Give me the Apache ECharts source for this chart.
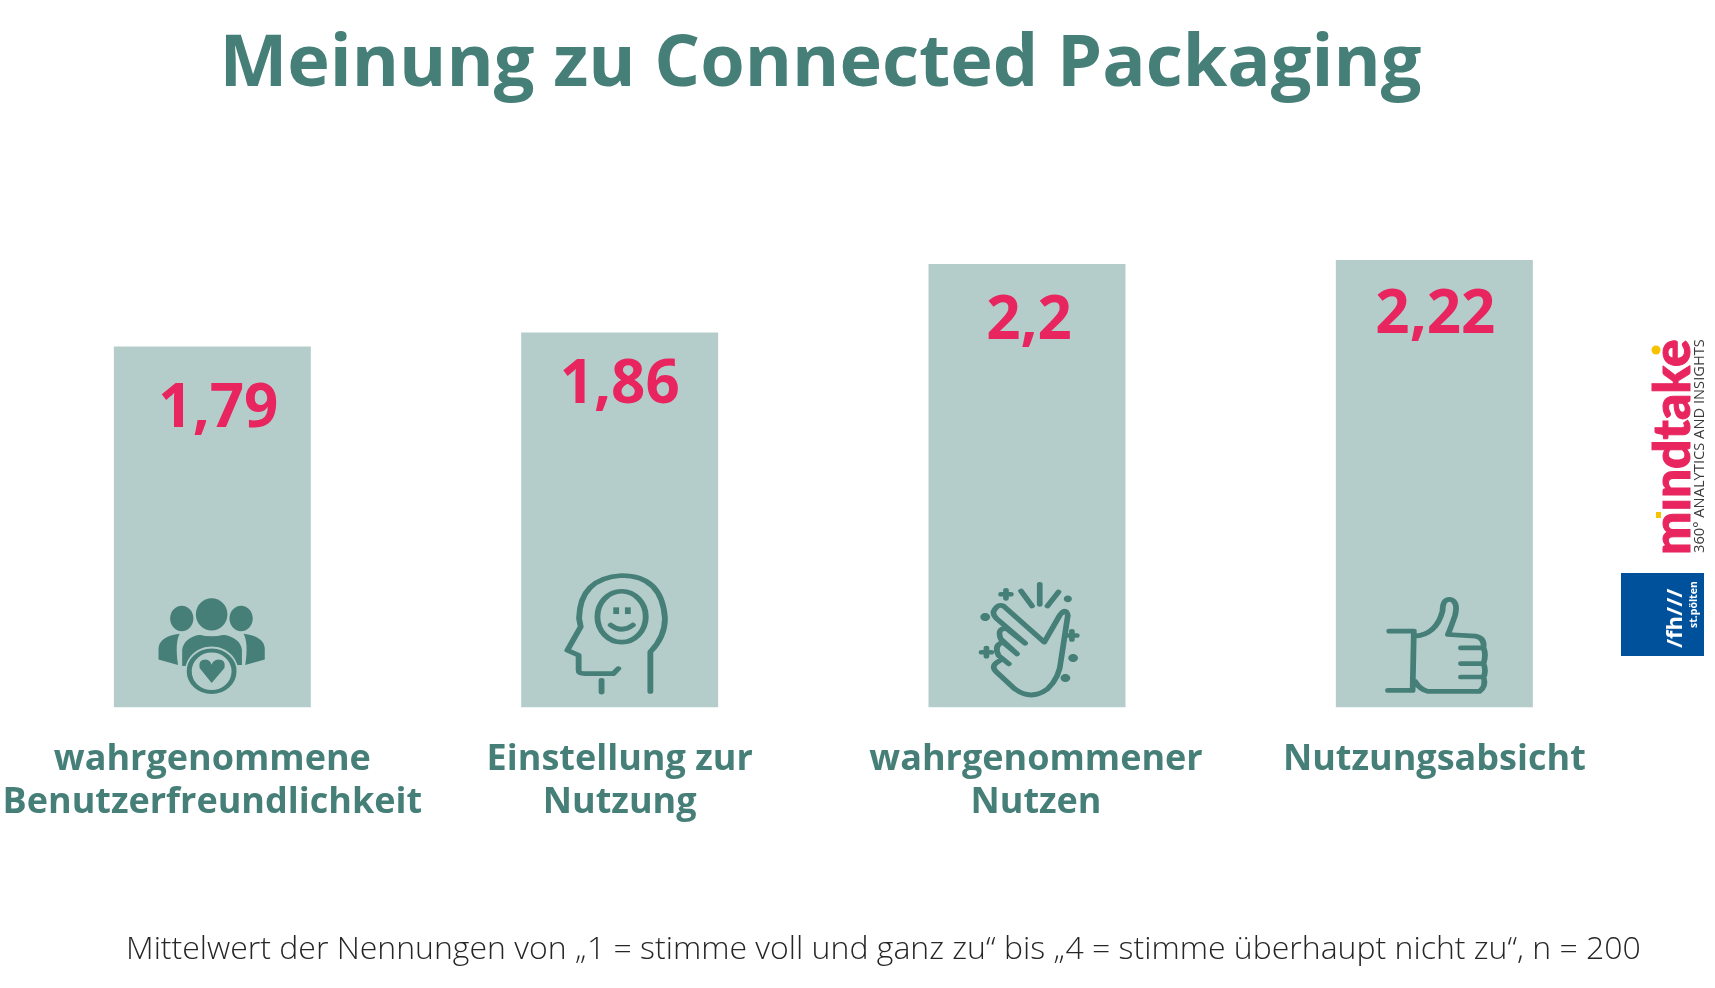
<!DOCTYPE html>
<html><head><meta charset="utf-8">
<style>html,body{margin:0;padding:0;background:#fff}#c{width:1715px;height:988px}</style>
<script src="https://cdn.jsdelivr.net/npm/echarts@6/dist/echarts.min.js"></script>
</head><body><div id="c"></div>
<script>
const titleText = 'Meinung zu Connected Packaging';
const footerText = 'Mittelwert der Nennungen von „1 = stimme voll und ganz zu“ bis „4 = stimme überhaupt nicht zu“, n = 200';
const categories = ['wahrgenommene\nBenutzerfreundlichkeit','Einstellung zur\nNutzung','wahrgenommener\nNutzen','Nutzungsabsicht'];
const values = [1.79,1.86,2.2,2.22];
const labelOffsets = [[6,28],[0,18.5],[2,23],[1,21]];
const categoryShift = [0,0,18,0];

const GREEN='#457f78', BAR='#b4cdca', PINK='#e8255f';
const chart = echarts.init(document.getElementById('c'));

function reg(name,d){echarts.graphic.registerShape(name,echarts.graphic.extendPath(d,{}));}
reg('pBodyM','M195,382 L195,330 Q200,292 240,283 Q269,292 298,283 Q340,292 345,330 L345,378 Z');
reg('pBodyL','M141,360 L141,325 Q145,290 192,283 Q180,310 188,376 Z');
reg('pBodyR','M397,360 L397,325 Q393,290 346,283 Q358,310 350,376 Z');
reg('pHeart','M269,430 L240,385 Q236,360 255,360 Q265,362 269,375 Q273,362 285,360 Q304,360 300,385 Z');
reg('pHead','M1327,458 L1327,340 Q1362,295 1362,240 Q1355,112 1258,112 Q1158,120 1156,240 L1160,265 L1128,335 L1155,350 L1155,395 Q1155,405 1170,405 L1238,405 L1250,390 M1210,425 L1210,460');
reg('pSmile','M1232,260 Q1258,285 1285,260');
reg('pHand','M300,308 L255,265 Q230,262 240,295 L280,340 M280,340 L245,305 Q222,315 235,345 L260,370 M245,355 L235,362 Q215,375 228,392 L275,445 Q315,480 355,445 Q385,410 388,360 L405,225 Q400,200 385,225 L347,305 L248,198 Q232,188 222,215 Q222,228 235,240 L300,308 M290,152 L317,197 M336,132 L336,192 M382,155 L355,197 M253,150 L253,174 M241,162 L265,162 M415,273 L415,297 M403,285 L427,285 M205,323 L205,347 M193,335 L217,335');
reg('pThumb','M1175,275 L1235,275 L1232,452 L1172,452 M1238,290 Q1290,285 1305,215 Q1305,180 1322,180 Q1345,185 1335,230 Q1325,265 1318,285 L1385,290 Q1408,295 1405,325 L1350,325 M1405,325 Q1412,345 1405,372 L1350,372 M1405,372 Q1412,395 1405,412 L1350,412 M1405,412 Q1412,440 1395,455 L1270,455 Q1250,450 1238,425');

const Z=100;
const line = {fill:'none',stroke:GREEN,lineWidth:14,lineCap:'round',lineJoin:'round'};
const solid = {fill:GREEN};
const dot=(cx,cy,r=11)=>({type:'ellipse',z:Z,shape:{cx,cy,rx:r,ry:r},style:solid});
const icons = [
 {type:'group',x:100,y:539,scaleX:.415,scaleY:.335,children:[
  {type:'ellipse',z:Z,shape:{cx:197,cy:237,rx:28,ry:38},style:solid},
  {type:'ellipse',z:Z,shape:{cx:340,cy:237,rx:28,ry:38},style:solid},
  {type:'ellipse',z:Z,shape:{cx:269,cy:225,rx:38,ry:48},style:solid},
  {type:'pBodyL',z:Z,style:solid},{type:'pBodyR',z:Z,style:solid},
  {type:'pBodyM',z:Z,style:{fill:GREEN,stroke:BAR,lineWidth:6}},
  {type:'ellipse',z:Z,shape:{cx:269,cy:395,rx:64,ry:74},style:{fill:BAR}},
  {type:'ellipse',z:Z,shape:{cx:269,cy:395,rx:54,ry:62},style:{fill:BAR,stroke:GREEN,lineWidth:12}},
  {type:'pHeart',z:Z,style:solid}
 ]},
 {type:'group',x:97,y:538,scaleX:.417,scaleY:.335,children:[
  {type:'pHead',z:Z,style:line},
  {type:'ellipse',z:Z,shape:{cx:1258,cy:235,rx:58,ry:76},style:{fill:'none',stroke:GREEN,lineWidth:14}},
  {type:'rect',z:Z,shape:{x:1238,y:207,width:14,height:20},style:solid},
  {type:'rect',z:Z,shape:{x:1266,y:207,width:14,height:20},style:solid},
  {type:'pSmile',z:Z,style:line}
 ]},
 {type:'group',x:903,y:540,scaleX:.407,scaleY:.335,children:[
  {type:'pHand',z:Z,style:line},
  dot(202,230,12),dot(405,176,10),dot(399,412,12),dot(418,352,12)
 ]},
 {type:'group',x:907.5,y:539,scaleX:.41,scaleY:.335,children:[
  {type:'pThumb',z:Z,style:line}
 ]}
];
const logos = [
 {type:'text',z:Z,x:1673,y:555,rotation:Math.PI/2,style:{text:'mındtake',font:'900 51.5px Lato, "Open Sans"',fill:PINK,stroke:PINK,lineWidth:1,textAlign:'left',textVerticalAlign:'middle'}},
 {type:'circle',z:Z,shape:{cx:1656,cy:350,r:4.5},style:{fill:'#f7c200'}},
 {type:'rect',z:Z,shape:{x:1656,y:512,width:5,height:6},style:{fill:'#f7c200'}},
 {type:'text',z:Z,x:1700,y:553,rotation:Math.PI/2,style:{text:'360° ANALYTICS AND INSIGHTS',font:'14.7px "Open Sans"',fill:'#3a3a3c',textAlign:'left',textVerticalAlign:'middle'}},
 {type:'rect',z:Z,shape:{x:1621,y:573,width:83,height:83},style:{fill:'#00519b'}},
 {type:'text',z:Z,x:1676,y:648,rotation:Math.PI/2,style:{text:'/fh///',font:'bold 22px "Open Sans"',fill:'#fff',textAlign:'left',textVerticalAlign:'middle'}},
 {type:'text',z:Z,x:1694,y:628,rotation:Math.PI/2,style:{text:'st.pölten',font:'bold 10.5px "Open Sans"',fill:'#fff',textAlign:'left',textVerticalAlign:'middle'}}
];

chart.setOption({
 backgroundColor:'#fff',
 animation:false,
 title:[
  {text:titleText,left:214.4,top:24,textStyle:{fontFamily:'Open Sans',fontWeight:'bold',fontSize:72,color:GREEN}},
  {text:footerText,left:121,top:929,textStyle:{fontFamily:'Open Sans',fontWeight:300,fontSize:32,color:'#262626'}}
 ],
 grid:{left:5,width:1633,top:102.8,height:604.5},
 xAxis:{type:'category',
  data:categories.map((c,i)=>({value:c,textStyle:{padding:[0,0,0,categoryShift[i]]}})),
  axisLine:{show:false},axisTick:{show:false},
  axisLabel:{interval:0,margin:31,fontFamily:'Open Sans',fontWeight:'bold',fontSize:36,lineHeight:43,color:GREEN,align:'center'}},
 yAxis:{type:'value',min:0,max:3,show:false,splitLine:{show:false}},
 series:[{type:'bar',barWidth:197,itemStyle:{color:BAR},
  data:values.map((v,i)=>({value:v,label:{offset:labelOffsets[i]}})),
  label:{show:true,position:'insideTop',distance:5,fontFamily:'Open Sans',fontWeight:'bold',fontSize:60,color:PINK,
   formatter:p=>String(p.value).replace('.',',')}}],
 graphic:{elements:[...icons,...logos]}
});
</script></body></html>
